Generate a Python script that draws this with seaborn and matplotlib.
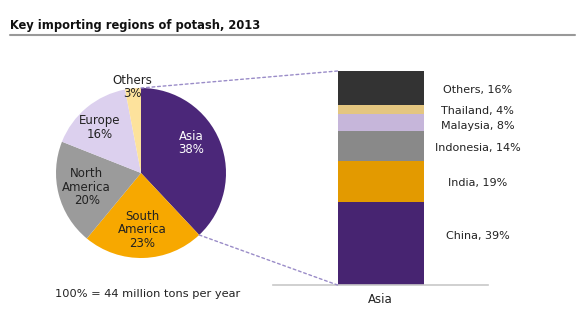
import matplotlib
matplotlib.use("Agg")
import matplotlib.pyplot as plt
from matplotlib.patches import ConnectionPatch
from matplotlib.lines import Line2D
import seaborn as sns
import pandas as pd
import numpy as np

sns.set_theme(style="white")
plt.rcParams['font.family'] = ['DejaVu Sans']

# ---- data ----
regions = ["Asia", "South\nAmerica", "North\nAmerica", "Europe", "Others"]
region_share = [38, 23, 20, 16, 3]
region_colors = ["#4B2779", "#F7A800", "#9B9B9B", "#DCD0EE", "#FDE29C"]
region_text_colors = ["white", "#222222", "#222222", "#222222", "#222222"]

countries = ["China", "India", "Indonesia", "Malaysia", "Thailand", "Others"]
country_share = [39, 19, 14, 8, 4, 16]
country_colors = ["#472471", "#E39A00", "#898989", "#C6B6DA", "#E4C680", "#333333"]
bar_category = "Asia"

W, H = 580, 328
fig = plt.figure(figsize=(W / 100, H / 100), dpi=100)

def px_axes(x0, y0, x1, y1):
    # pixel box (top-left origin) -> figure fraction axes
    return fig.add_axes([x0 / W, 1 - y1 / H, (x1 - x0) / W, (y1 - y0) / H])

# title and rule
fig.text(10 / W, 1 - 25 / H, "Key importing regions of potash, 2013", fontsize=8.3,
         fontweight="bold", ha="left", va="center", color="#111111")
fig.add_artist(Line2D([10 / W, 575 / W], [1 - 35 / H, 1 - 35 / H], color="#999999", lw=1.5))

# ---- pie ----
cx, cy, r = 141, 173, 85
ax_pie = px_axes(cx - r, cy - r, cx + r, cy + r)
wedges, _ = ax_pie.pie(region_share, colors=region_colors, startangle=90, counterclock=False,
                       radius=1, wedgeprops=dict(linewidth=0))
ax_pie.set_xlim(-1, 1)
ax_pie.set_ylim(-1, 1)
ax_pie.set_aspect("equal")
ax_pie.axis("off")

# label angles / radii (degrees from +x axis, radius in pie units)
label_pos = [(31, 0.69), (-89, 0.67), (-165.5, 0.66), (132, 0.72), (96, 1.02)]
for name, val, (ang, rad), tc in zip(regions, region_share, label_pos, region_text_colors):
    a = np.deg2rad(ang)
    ax_pie.text(rad * np.cos(a), rad * np.sin(a), f"{name}\n{val}%", ha="center", va="center",
                fontsize=8.5, color=tc, linespacing=1.05, clip_on=False)

# ---- stacked bar ----
ax_bar = px_axes(273, 71, 488, 285)
cum = np.cumsum(country_share)
for i in range(len(countries) - 1, -1, -1):
    df = pd.DataFrame({"cat": [bar_category], "val": [cum[i]]})
    sns.barplot(data=df, x="cat", y="val", color=country_colors[i], width=1.0,
                saturation=1, ax=ax_bar, linewidth=0)
ax_bar.set_xlim(-1.25, 1.25)
ax_bar.set_ylim(0, 100)
for s in ["top", "right", "left"]:
    ax_bar.spines[s].set_visible(False)
ax_bar.spines["bottom"].set_color("#C8C8C8")
ax_bar.spines["bottom"].set_linewidth(1.2)
ax_bar.set_yticks([])
ax_bar.set_xlabel("")
ax_bar.set_ylabel("")
ax_bar.tick_params(axis="x", length=0, labelsize=8.5, pad=6, colors="#222222")
ax_bar.set_facecolor("none")

# country labels to the right of the bar
offsets = [3.4, -0.8, -1.0, -1.7, -0.7, -0.9]
for i, (c, v) in enumerate(zip(countries, country_share)):
    mid = cum[i] - v / 2 + offsets[i]
    ax_bar.text(1.13, mid, f"{c}, {v}%", ha="center", va="center", fontsize=8, color="#222222")

# connector lines
for (pa, pb) in [((0, 1), (-0.5, 100)),
                 ((np.cos(np.deg2rad(90 - 3.6 * region_share[0])),
                   np.sin(np.deg2rad(90 - 3.6 * region_share[0]))), (-0.5, 0))]:
    con = ConnectionPatch(xyA=pa, coordsA=ax_pie.transData, xyB=pb, coordsB=ax_bar.transData,
                          color="#9A8CC8", lw=1.0, linestyle=(0, (2, 2)))
    fig.add_artist(con)

fig.text(55 / W, 1 - 294 / H, "100% = 44 million tons per year", fontsize=8.2,
         ha="left", va="center", color="#222222")

fig.savefig("out.png", dpi=100, facecolor="white")
